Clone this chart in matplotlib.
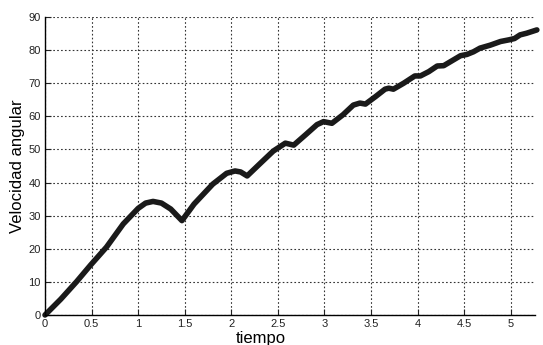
import numpy as np
import matplotlib
matplotlib.use('Agg')
import matplotlib.pyplot as plt

plt.rcParams['font.family'] = ['Liberation Sans', 'DejaVu Sans']

# tiempo vs velocidad angular
tiempo = [0, 0.17, 0.34, 0.49, 0.66, 0.84, 1.0, 1.08, 1.16, 1.25, 1.35, 1.47,
          1.6, 1.8, 1.95, 2.04, 2.1, 2.17, 2.3, 2.45, 2.58, 2.67, 2.8, 2.92,
          2.99, 3.08, 3.2, 3.31, 3.38, 3.44, 3.55, 3.65, 3.69, 3.74, 3.85,
          3.97, 4.03, 4.12, 4.21, 4.28, 4.37, 4.46, 4.53, 4.6, 4.67, 4.78,
          4.89, 4.98, 5.04, 5.10, 5.17, 5.28]
velocidad = [0, 4.8, 10.1, 15.1, 20.5, 27.5, 32.2, 33.8, 34.3, 33.8, 32, 28.5,
             33.5, 39.5, 42.8, 43.5, 43.2, 42, 45.5, 49.5, 51.9, 51.3, 54.5, 57.5,
             58.4, 57.9, 60.5, 63.4, 64, 63.7, 66, 68.2, 68.5, 68.2, 70,
             72.2, 72.2, 73.5, 75.2, 75.3, 76.8, 78.3, 78.7, 79.5, 80.6, 81.5,
             82.6, 83.1, 83.5, 84.6, 85.1, 86.1]
xticks = [0, 0.5, 1, 1.5, 2, 2.5, 3, 3.5, 4, 4.5, 5]
xticklabels = ['0', '0.5', '1', '1.5', '2', '2.5', '3', '3.5', '4', '4.5', '5']
yticks = list(range(0, 91, 10))

fig = plt.figure(figsize=(5.43, 3.45), dpi=100)
ax = fig.add_axes([45 / 543, 30 / 345, 490 / 543, 298 / 345])

ax.plot(tiempo, velocidad, color='#1a1a1a', linewidth=4,
        solid_joinstyle='round', solid_capstyle='round', clip_on=False)

ax.set_xlim(0, 5.26)
ax.set_ylim(0, 90)
ax.set_xticks(xticks)
ax.set_xticklabels(xticklabels)
ax.set_yticks(yticks)
ax.grid(True, color='#333333', linestyle=(0, (1.5, 2)), linewidth=0.8)
ax.tick_params(direction='in', length=4, labelsize=8, pad=3, colors='#222222')

ax.spines['top'].set_visible(False)
ax.spines['right'].set_visible(False)
ax.spines['left'].set_linewidth(1)
ax.spines['bottom'].set_linewidth(1)

ax.set_xlabel('tiempo', fontsize=12)
ax.xaxis.set_label_coords((261 - 45) / 490, -0.055)
ax.set_ylabel('Velocidad angular', fontsize=12)
ax.yaxis.set_label_coords(-0.04, 0.5)

plt.savefig('out.png', dpi=100)
